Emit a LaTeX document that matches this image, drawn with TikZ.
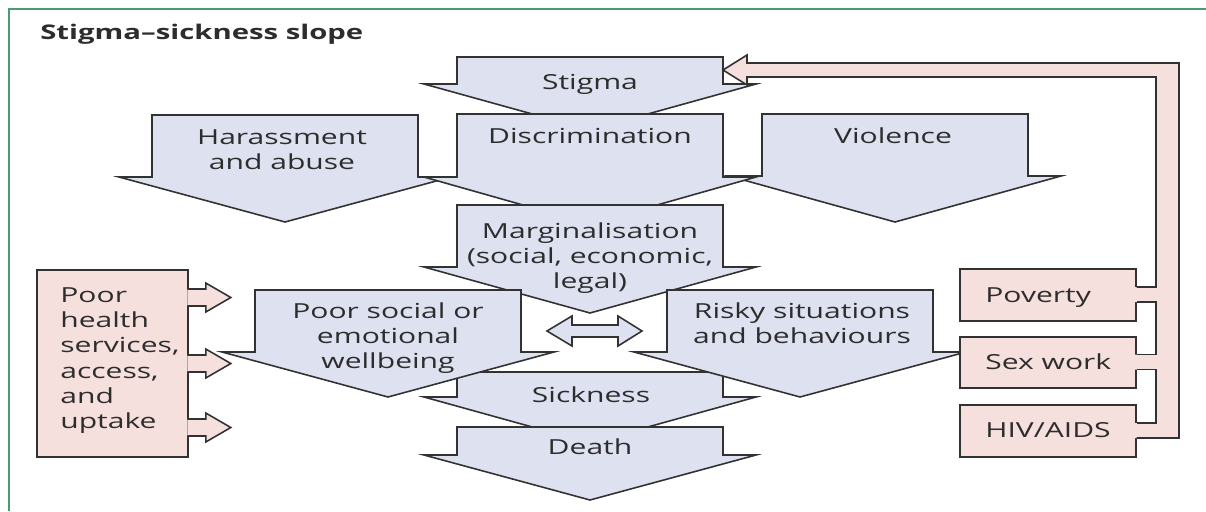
\documentclass[tikz,border=0pt]{standalone}
\usepackage{fontspec}
\setmainfont{Open Sans}[FakeStretch=1.45]
\usetikzlibrary{calc,fit}

\definecolor{slopeblue}{RGB}{221,225,240}
\definecolor{slopepink}{RGB}{245,224,221}
\definecolor{slopeline}{RGB}{50,50,50}
\definecolor{slopetext}{RGB}{45,45,45}
\definecolor{framegreen}{RGB}{72,155,115}

\tikzset{
  slope/.style = {fill = slopeblue, draw = slopeline, line width = 0.9pt},
  pinkbox/.style = {fill = slopepink, draw = slopeline, line width = 0.9pt},
  pipe/.style = {draw = slopeline, line width = 0.9pt},
  lbl/.style = {inner sep = 0, text = slopetext, align = center,
    font = \fontsize{11.8}{14.4}\selectfont},
}

% down-pointing block arrow: centre x, top, shoulder, tip
\newcommand{\slopeblock}[4]{%
  \filldraw[slope] (#1-133,#2) -- (#1+133,#2) -- (#1+133,#3) -- (#1+166,#3)
    -- (#1,#4) -- (#1-166,#3) -- (#1-133,#3) -- cycle;}

\begin{document}
\begin{tikzpicture}[x = 0.02cm, y = -0.02cm]
\useasboundingbox (0,0) rectangle (1206,511);

% Frame and title

\draw[framegreen, line width = 0.8pt] (9,511) -- (9,9) -- (1206,9);
\node[lbl, anchor = base west, font = \bfseries\fontsize{11.5}{14}\selectfont]
  (title) at (40,39) {Stigma–sickness slope};

% The slope

\slopeblock{285}{115}{177}{222}
\slopeblock{895}{114}{176}{222}
\slopeblock{590}{57}{84}{130}
\slopeblock{590}{114}{177}{224}
\slopeblock{590}{205}{267}{313}
\slopeblock{590}{372}{397}{443}
\slopeblock{388}{290}{352}{397}
\slopeblock{800}{290}{352}{397}
\slopeblock{590}{427}{455}{500}

\node[lbl, anchor = base] (stigma) at (590,89) {Stigma};
\node[lbl, anchor = north] (harass) at (282,129) {Harassment\\and abuse};
\node[lbl, anchor = base] (discr) at (590,143) {Discrimination};
\node[lbl, anchor = base] (violence) at (893,143) {Violence};
\node[lbl, anchor = north] (margin) at (590,222)
  {Marginalisation\\(social, economic,\\legal)};
\node[lbl, anchor = north] (social) at (388,302)
  {Poor social or\\emotional\\wellbeing};
\node[lbl, anchor = north] (risky) at (802,302)
  {Risky situations\\and behaviours};
\node[lbl, anchor = base] (sickness) at (591,402) {Sickness};
\node[lbl, anchor = base] (death) at (590,454) {Death};

% Between the two middle arrows

\filldraw[slope] (547,331) -- (572,316) -- (572,325) -- (618,325) -- (618,316)
  -- (642,331) -- (618,346) -- (618,337) -- (572,337) -- (572,346) -- cycle;

% Health services

\node[pinkbox, fit = {(37,270) (188,457)}, inner sep = 0] (health) {};
\node[lbl, anchor = north west, align = left] (health-txt) at (60,287)
  {Poor\\health\\services,\\access,\\and\\uptake};
\foreach \dy in {-66,0,64}
  \filldraw[pinkbox, shift = {(health.east)}] (-1.5,\dy-8.5) -- (17,\dy-8.5)
    -- (17,\dy-14.5) -- (42,\dy) -- (17,\dy+14.5) -- (17,\dy+8.5) -- (-1.5,\dy+8.5);

% Drivers

\node[pinkbox, fit = {(960,269) (1136,321)}, inner sep = 0] (poverty) {};
\node[pinkbox, fit = {(960,337) (1136,388)}, inner sep = 0] (sexwork) {};
\node[pinkbox, fit = {(960,405) (1136,457)}, inner sep = 0] (hiv) {};
\node[lbl, anchor = base west] (poverty-txt) at (985,302) {Poverty};
\node[lbl, anchor = base west] (sexwork-txt) at (985,369) {Sex work};
\node[lbl, anchor = base west] (hiv-txt) at (985,437) {HIV/AIDS};

% Feedback to stigma

\path (poverty.east) ++(-2,-8) coordinate (pv1) ++(0,15) coordinate (pv2);
\path (sexwork.east) ++(-2,-8) coordinate (sw1) ++(0,15) coordinate (sw2);
\path (hiv.east) ++(-2,-8) coordinate (hv1) ++(0,15) coordinate (hv2);
\coordinate (trunkin) at (1156,0);
\coordinate (trunkout) at (1179,0);
\coordinate (pipein) at (0,77);
\coordinate (pipeout) at (0,63);
\coordinate (head) at (723,70);

\fill[slopepink] (pv1) -- (pv1 -| trunkin) -- (trunkin |- pipein) -- (747,77)
  -- (747,85) -- (head) -- (747,55) -- (747,63) -- (trunkout |- pipeout)
  -- (trunkout |- hv2) -- (hv2) -- (hv1) -- (hv1 -| trunkin) -- (trunkin |- sw2)
  -- (sw2) -- (sw1) -- (sw1 -| trunkin) -- (trunkin |- pv2) -- (pv2) -- cycle;
\draw[pipe] ([xshift = 1pt]pv1) -- (pv1 -| trunkin) -- (trunkin |- pipein)
  -- (747,77) -- (747,85) -- (head) -- (747,55) -- (747,63)
  -- (trunkout |- pipeout) -- (trunkout |- hv2) -- ([xshift = 1pt]hv2);
\draw[pipe] ([xshift = 1pt]hv1) -- (hv1 -| trunkin) -- (trunkin |- sw2)
  -- ([xshift = 1pt]sw2);
\draw[pipe] ([xshift = 1pt]sw1) -- (sw1 -| trunkin) -- (trunkin |- pv2)
  -- ([xshift = 1pt]pv2);

\end{tikzpicture}
\end{document}
